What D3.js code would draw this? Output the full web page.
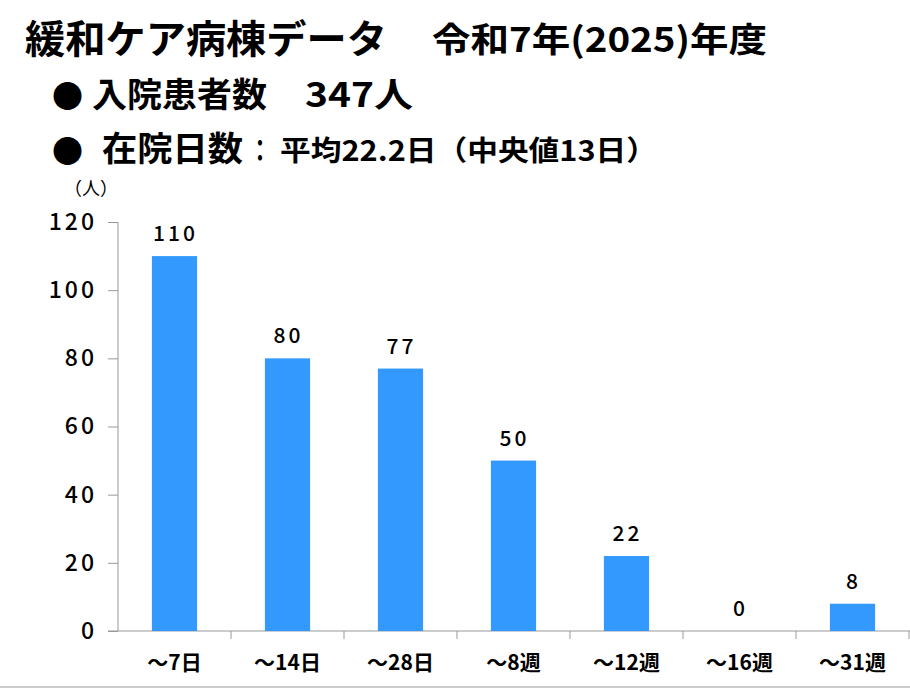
<!DOCTYPE html>
<html>
<head>
<meta charset="utf-8">
<script src="https://cdn.jsdelivr.net/npm/d3@7.9.0/dist/d3.min.js"></script>
<style>
  body { margin: 0; background: #fff; }
  svg { display: block; font-family: "Noto Sans CJK JP", "Noto Sans", sans-serif; }
</style>
</head>
<body>
<svg width="910" height="691"></svg>
<script>
const categories = ['〜7日', '〜14日', '〜28日', '〜8週', '〜12週', '〜16週', '〜31週'];
const patients = [110, 80, 77, 50, 22, 0, 8];
const yTicks = [0, 20, 40, 60, 80, 100, 120];

const svg = d3.select('svg');

// header pieces: text, x, baseline, size, width (null = natural)
const header = [
  ['緩和ケア病棟データ', 25, 53, 39, 362],
  ['令和7年(2025)年度', 432, 52, 34, 335],
  ['●', 52, 107, 31, null],
  ['入院患者数', 92, 107, 34, 175],
  ['347人', 305, 107, 34, 108],
  ['●', 52, 162, 31, null],
  ['在院日数', 102, 161, 34, 141],
  ['：', 249, 161, 30, 22],
  ['平均22.2日（中央値13日）', 280, 161, 28, 377],
];

svg.selectAll('text.hd')
  .data(header)
  .join('text')
  .attr('class', 'hd')
  .attr('x', (d) => d[1]).attr('y', (d) => d[2])
  .attr('font-size', (d) => d[3]).attr('font-weight', 700)
  .attr('textLength', (d) => d[4]).attr('lengthAdjust', (d) => d[4] ? 'spacingAndGlyphs' : null)
  .text((d) => d[0]);

// chart
let x = d3.scaleBand().domain(categories).range([118, 909]).paddingInner(0.6).paddingOuter(0.3);
let y = d3.scaleLinear().domain([0, 120]).range([631, 222]);

svg.append('text')
  .attr('x', 64).attr('y', 195)
  .attr('font-size', 18)
  .text('（人）');

let yAxis = svg.append('g')
  .attr('transform', 'translate(118,0)')
  .call(d3.axisLeft(y).tickValues(yTicks).tickSize(10).tickPadding(11));
yAxis.select('.domain').attr('stroke', '#999').attr('d', 'M0,222V631');
yAxis.selectAll('.tick line').attr('stroke', '#999');
yAxis.selectAll('.tick text')
  .attr('font-size', 23).attr('font-weight', 500).attr('fill', '#000')
  .attr('letter-spacing', 3)
  .attr('font-family', '"Noto Sans CJK JP", sans-serif');

let xBoundaries = d3.scaleBand().domain(categories).range([118, 909]);
let xAxisG = svg.append('g');
xAxisG.append('line')
  .attr('x1', 108).attr('x2', 910)
  .attr('y1', y(0)).attr('y2', y(0))
  .attr('stroke', '#999');
xAxisG.selectAll('line.tk')
  .data(categories.map((c) => xBoundaries(c)).concat([909]).slice(1))
  .join('line')
  .attr('class', 'tk')
  .attr('x1', (d) => d).attr('x2', (d) => d)
  .attr('y1', y(0)).attr('y2', y(0) + 8)
  .attr('stroke', '#999');

svg.selectAll('text.cat')
  .data(categories)
  .join('text')
  .attr('class', 'cat')
  .attr('x', (d) => xBoundaries(d) + xBoundaries.bandwidth() / 2)
  .attr('y', 670)
  .attr('text-anchor', 'middle')
  .attr('font-size', 21).attr('font-weight', 700)
  .text((d) => d);

svg.selectAll('rect.bar')
  .data(patients)
  .join('rect')
  .attr('class', 'bar')
  .attr('x', (d, i) => x(categories[i]))
  .attr('width', x.bandwidth())
  .attr('y', (d) => y(d))
  .attr('height', (d) => y(0) - y(d))
  .attr('fill', '#3399ff');

svg.selectAll('text.val')
  .data(patients)
  .join('text')
  .attr('class', 'val')
  .attr('x', (d, i) => x(categories[i]) + x.bandwidth() / 2 + 1)
  .attr('y', (d) => y(d) - 15)
  .attr('text-anchor', 'middle')
  .attr('font-size', 21).attr('font-weight', 500)
  .attr('letter-spacing', 3)
  .text((d) => d);

// bottom rule
svg.append('line')
  .attr('x1', 0).attr('x2', 910)
  .attr('y1', 687).attr('y2', 687)
  .attr('stroke', '#ccc').attr('stroke-width', 2);
</script>
</body>
</html>
